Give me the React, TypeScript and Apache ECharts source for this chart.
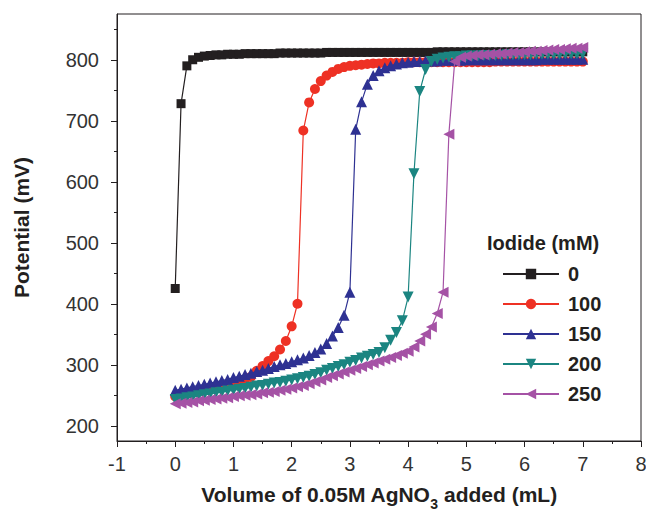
import React, { useEffect, useRef } from 'react';
import * as echarts from 'echarts';

const volumes = [
  0, 0.1, 0.2, 0.3, 0.4, 0.5, 0.6, 0.7, 0.8, 0.9,
  1, 1.1, 1.2, 1.3, 1.4, 1.5, 1.6, 1.7, 1.8, 1.9,
  2, 2.1, 2.2, 2.3, 2.4, 2.5, 2.6, 2.7, 2.8, 2.9,
  3, 3.1, 3.2, 3.3, 3.4, 3.5, 3.6, 3.7, 3.8, 3.9,
  4, 4.1, 4.2, 4.3, 4.4, 4.5, 4.6, 4.7, 4.8, 4.9,
  5, 5.1, 5.2, 5.3, 5.4, 5.5, 5.6, 5.7, 5.8, 5.9,
  6, 6.1, 6.2, 6.3, 6.4, 6.5, 6.6, 6.7, 6.8, 6.9,
  7,
];

const iodide0 = [
  425, 728, 790, 800, 804, 806, 807, 808, 808, 809,
  809, 809, 810, 810, 810, 810, 810, 810, 811, 811,
  811, 811, 811, 811, 811, 811, 812, 812, 812, 812,
  812, 812, 812, 812, 812, 812, 812, 812, 812, 812,
  812, 812, 812, 812, 812, 813, 813, 813, 813, 813,
  813, 813, 813, 813, 813, 813, 813, 813, 813, 813,
  813, 813, 813, 813, 813, 813, 813, 813, 813, 813,
  813,
];

const iodide100 = [
  248, 250, 252, 254, 256, 258, 261, 263, 265, 268,
  270, 273, 276, 280, 290, 298, 306, 314, 325, 339,
  363, 400, 684, 730, 752, 765, 774, 780, 785, 788,
  790, 791, 792, 793, 794, 794, 795, 795, 795, 795,
  796, 796, 796, 796, 796, 796, 796, 796, 796, 796,
  796, 796, 796, 796, 796, 797, 797, 797, 797, 797,
  797, 797, 797, 797, 797, 797, 797, 797, 797, 797,
  797,
];

const iodide150 = [
  258, 260, 262, 264, 266, 268, 270, 272, 274, 276,
  279, 281, 284, 286, 289, 291, 294, 297, 300, 302,
  305, 308, 311, 315, 320, 326, 335, 347, 361, 381,
  419, 686, 731, 760, 774, 782, 787, 790, 793, 795,
  796, 797, 797, 798, 798, 798, 799, 799, 799, 799,
  800, 800, 800, 800, 800, 800, 800, 800, 800, 800,
  800, 800, 800, 801, 801, 801, 801, 801, 801, 801,
  801,
];

const iodide200 = [
  243, 244, 246, 247, 249, 251, 252, 254, 255, 257,
  258, 260, 261, 263, 265, 266, 268, 270, 271, 273,
  275, 277, 279, 281, 284, 287, 291, 294, 297, 300,
  304, 307, 311, 314, 317, 320, 328, 340, 353, 372,
  411, 613, 748, 784, 797, 801, 803, 804, 805, 805,
  806, 806, 806, 807, 807, 807, 807, 808, 808, 808,
  808, 808, 809, 809, 809, 809, 809, 810, 810, 810,
  810,
];

const iodide250 = [
  236, 237, 238, 239, 241, 242, 243, 244, 245, 246,
  248, 249, 250, 251, 252, 254, 255, 256, 258, 260,
  262, 264, 266, 269, 272, 275, 279, 282, 285, 288,
  291, 294, 297, 300, 303, 306, 309, 312, 315, 319,
  322, 329, 339, 350, 362, 384, 419, 678, 797, 804,
  806, 807, 808, 808, 809, 810, 810, 811, 812, 812,
  813, 814, 814, 815, 816, 817, 817, 818, 819, 819,
  820,
];

const seriesNames = ['0', '100', '150', '200', '250'];
const seriesValues = [iodide0, iodide100, iodide150, iodide200, iodide250];
const seriesColors = ['#231f20', '#ee3124', '#2e3192', '#1b8581', '#a552a5'];
const seriesSymbols = ['rect', 'circle', 'triangle', 'triangle', 'triangle'];
const seriesSymbolRotate = [0, 0, 0, 180, 90];
const seriesSymbolSize = [9, 10, 11, 11, 11];

const yLabelValues = [200, 300, 400, 500, 600, 700, 800];
const yMinorTickValues = [250, 350, 450, 550, 650, 750, 850];

const legendTitle = 'Iodide (mM)';
const xAxisTitle = '{b|Volume of 0.05M AgNO}{sub|3}{b| added (mL)}';
const yAxisTitle = 'Potential (mV)';

const AXIS_COLOR = '#231f20';
const FONT = '"Liberation Sans", Arial, sans-serif';

export default function App() {
  const ref = useRef<HTMLDivElement>(null);

  useEffect(() => {
    if (!ref.current) return;
    const chart = echarts.init(ref.current, null, { renderer: 'svg' });

    const series = seriesNames.map((name, si) => ({
      name,
      type: 'line',
      data: volumes.map((v, i) => [v, seriesValues[si][i]]),
      symbol: seriesSymbols[si],
      symbolSize: seriesSymbolSize[si],
      symbolRotate: seriesSymbolRotate[si],
      showAllSymbol: true,
      color: seriesColors[si],
      lineStyle: { width: 1.2, color: seriesColors[si] },
      itemStyle: { color: seriesColors[si] },
      xAxisIndex: 0,
      yAxisIndex: 0,
      z: 2 + si,
    }));

    chart.setOption({
      animation: false,
      backgroundColor: '#ffffff',
      textStyle: { fontFamily: FONT },
      grid: {
        left: 117,
        right: 5,
        top: 14,
        bottom: 71,
        outerBoundsMode: 'none',
        containLabel: false,
        show: true,
        borderColor: AXIS_COLOR,
        borderWidth: 1,
        backgroundColor: 'transparent',
      },
      xAxis: {
        type: 'value',
        min: -1,
        max: 8,
        interval: 1,
        axisLine: { show: true, onZero: false, lineStyle: { color: AXIS_COLOR, width: 1 } },
        axisTick: { show: true, length: 6, lineStyle: { color: AXIS_COLOR } },
        minorTick: { show: true, splitNumber: 2, length: 3, lineStyle: { color: AXIS_COLOR } },
        splitLine: { show: false },
        axisLabel: { fontSize: 20, color: '#333333', margin: 13, fontFamily: FONT },
        name: xAxisTitle,
        nameLocation: 'middle',
        nameGap: 43,
        nameTextStyle: {
          fontSize: 21,
          fontWeight: 'bold',
          color: AXIS_COLOR,
          fontFamily: FONT,
          rich: {
            b: { fontSize: 21, fontWeight: 'bold', lineHeight: 22, verticalAlign: 'top', color: AXIS_COLOR, fontFamily: FONT },
            sub: { fontSize: 14, fontWeight: 'bold', lineHeight: 27, verticalAlign: 'bottom', color: AXIS_COLOR, fontFamily: FONT },
          },
        },
      },
      yAxis: [
        {
          type: 'value',
          min: 175,
          max: 875,
          axisLine: { show: true, onZero: false, lineStyle: { color: AXIS_COLOR, width: 1 } },
          axisTick: { show: true, length: 6, customValues: yLabelValues, lineStyle: { color: AXIS_COLOR } },
          splitLine: { show: false },
          axisLabel: { fontSize: 20, color: '#333333', margin: 18, customValues: yLabelValues, fontFamily: FONT },
          name: yAxisTitle,
          nameLocation: 'middle',
          nameGap: 85,
          nameTextStyle: { fontSize: 21, fontWeight: 'bold', color: AXIS_COLOR, fontFamily: FONT },
        },
        {
          type: 'value',
          min: 175,
          max: 875,
          position: 'left',
          axisLine: { show: false, onZero: false },
          axisTick: { show: true, length: 3, customValues: yMinorTickValues, lineStyle: { color: AXIS_COLOR } },
          splitLine: { show: false },
          axisLabel: { show: false },
        },
      ],
      legend: {
        orient: 'vertical',
        left: 497,
        top: 259,
        itemWidth: 56,
        itemHeight: 13,
        itemGap: 10,
        data: seriesNames,
        textStyle: { fontSize: 20, fontWeight: 'bold', color: AXIS_COLOR, fontFamily: FONT, padding: [0, 0, 0, 4] },
      },
      graphic: [
        {
          type: 'text',
          left: 487,
          top: 233,
          style: { text: legendTitle, fontSize: 20, fontWeight: 'bold', fill: AXIS_COLOR, fontFamily: FONT },
        },
      ],
      series,
    });

    return () => chart.dispose();
  }, []);

  return <div ref={ref} style={{ position: 'fixed', left: 0, top: 0, width: 646, height: 512 }} />;
}
